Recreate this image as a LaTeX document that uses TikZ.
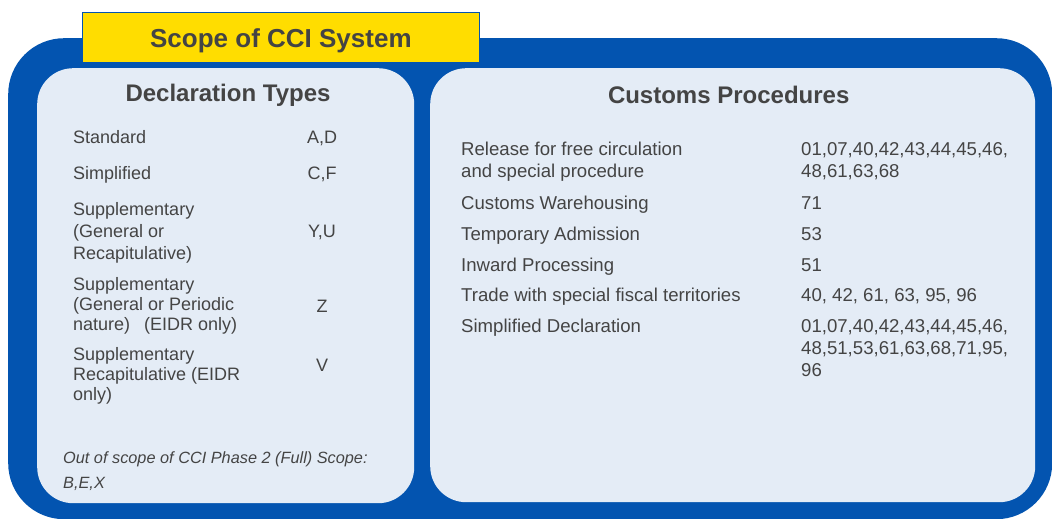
\documentclass[tikz,border=0pt]{standalone}
\usepackage{fontspec}
\setsansfont{Liberation Sans}
\usepackage{xcolor}
\usetikzlibrary{positioning}

\definecolor{cciblue}{RGB}{3,84,176}
\definecolor{panelfill}{RGB}{228,236,246}
\definecolor{banneryellow}{RGB}{255,221,0}
\definecolor{textgrey}{RGB}{68,68,68}

\begin{document}
\begin{tikzpicture}[
    x=1pt, y=-1pt,
    font=\sffamily,
    frame/.style={
		rectangle,
		rounded corners=56pt,
		fill=cciblue,
		anchor=north west,
		inner sep=0pt
	},
    panel/.style={
		rectangle,
		rounded corners=36pt,
		fill=panelfill,
		anchor=north west,
		inner sep=0pt
	},
    banner/.style={
		rectangle,
		draw=cciblue,
		line width=0.8pt,
		fill=banneryellow,
		anchor=north west,
		minimum width=397pt,
		minimum height=50pt,
		text height=19.4pt,
		text depth=0pt,
		text=textgrey,
		font=\sffamily\bfseries\fontsize{26}{30}\selectfont
	},
    heading/.style={
		anchor=base,
		inner sep=0pt,
		text=textgrey,
		font=\sffamily\bfseries\fontsize{24}{28}\selectfont
	},
    entry/.style={
		anchor=base west,
		inner sep=0pt,
		align=left,
		text=textgrey,
		font=\sffamily\fontsize{18}{22}\selectfont
	},
    tight/.style={
		font=\sffamily\fontsize{18}{20}\selectfont
	},
    wide/.style={
		font=\sffamily\fontsize{18.6}{22}\selectfont
	},
    code/.style={
		entry,
		anchor=base
	},
    note/.style={
		entry,
		font=\sffamily\itshape\fontsize{16.3}{24.7}\selectfont
	}
  ]
  \useasboundingbox (0,0) rectangle (1052,519);

  % We start by placing the blocks
  \node [frame, minimum width=1044pt, minimum height=481pt] (frame) at (8,38) {};
  \node [panel, minimum width=377pt, minimum height=435pt] (declpanel) at (37,68) {};
  \node [panel, minimum width=605pt, minimum height=434pt] (procpanel) at (430,68) {};
  \node [banner] (banner) at (82,12) {Scope of CCI System};

  \node [heading] (decltitle) at (228,101.7) {Declaration Types};
  \node [heading] (proctitle) at (728.7,103.3) {Customs Procedures};

  % declaration types (a multi-line node sits on its last line)
  \node [entry] (standard) at (73,143.3) {Standard};
  \node [code] (standardcode) at (322,143.3) {A,D};

  \node [entry] (simplified) at (73,179) {Simplified};
  \node [code] (simplifiedcode) at (322,179) {C,F};

  \node [entry] (suppgen) at (73,259)
 {Supplementary\\(General or\\Recapitulative)};
  \node [code] (suppgencode) at (322,237.3) {Y,U};

  \node [entry, tight] (suppper) at (73,330.5)
 {Supplementary\\(General or Periodic\\nature)\hspace{9pt} (EIDR only)};
  \node [code] (suppercode) at (322,312.3) {Z};

  \node [entry, tight] (supprec) at (73,400.8)
 {Supplementary\\Recapitulative (EIDR\\only)};
  \node [code] (supreccode) at (322,371) {V};

  \node [note] (outofscope) at (63,488)
 {Out of scope of CCI Phase 2 (Full) Scope:\\B,E,X};

  % customs procedures
  \node [entry, wide] (release) at (461,177)
 {Release for free circulation\\and special procedure};
  \node [entry, wide] (releasecode) at (801,177)
 {01,07,40,42,43,44,45,46,\\48,61,63,68};

  \node [entry, wide] (warehouse) at (461,209) {Customs Warehousing};
  \node [entry, wide] (warehousecode) at (801,209) {71};

  \node [entry, wide] (temporary) at (461,240) {Temporary Admission};
  \node [entry, wide] (temporarycode) at (801,240) {53};

  \node [entry, wide] (inward) at (461,271) {Inward Processing};
  \node [entry, wide] (inwardcode) at (801,271) {51};

  \node [entry, wide] (fiscal) at (461,301) {Trade with special fiscal territories};
  \node [entry, wide] (fiscalcode) at (801,301) {40, 42, 61, 63, 95, 96};

  \node [entry, wide] (simpdecl) at (461,332) {Simplified Declaration};
  \node [entry, wide] (simpdeclcode) at (801,376)
 {01,07,40,42,43,44,45,46,\\48,51,53,61,63,68,71,95,\\96};

\end{tikzpicture}
\end{document}
